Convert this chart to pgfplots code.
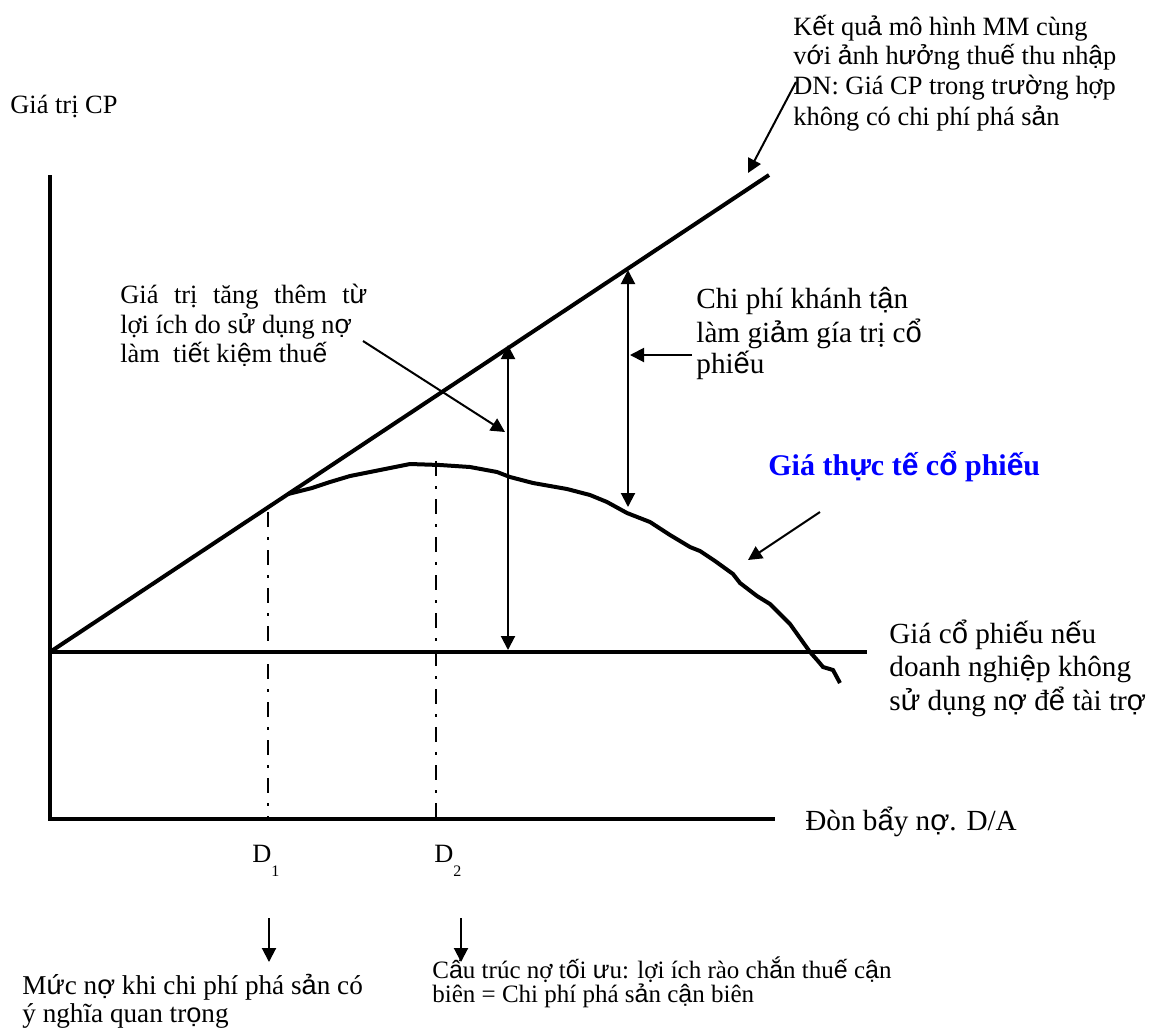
\documentclass[border=0pt]{standalone}
\usepackage{pgfplots}
\pgfplotsset{compat=1.18}
\usepackage{fontspec}
\setmainfont{Liberation Serif}
\newfontfamily\ssf{Liberation Sans}
\newcommand\V[1]{{\ssf #1}}
\usetikzlibrary{arrows.meta}
\definecolor{blu}{RGB}{0,0,255}
\begin{document}
\begin{tikzpicture}[
  txt/.style={anchor=base west, inner sep=0pt, font=\fontsize{13.2}{16}\selectfont},
  big/.style={txt, font=\fontsize{14.6}{17}\selectfont},
  hd/.style={-{Triangle[length=7pt,width=7pt]}},
  dhd/.style={{Triangle[length=7pt,width=7pt]}-{Triangle[length=7pt,width=7pt]}}]
\begin{axis}[scale only axis, width=576pt, height=515pt,
  xmin=0, xmax=1152, ymin=0, ymax=1030, y dir=reverse,
  hide axis, clip=false]
\path (axis cs:0,0) rectangle (axis cs:1152,1030);
% axes
\addplot[black, line width=2pt] coordinates {(50,175) (50,819) (775,819)};
% MM line
\addplot[black, line width=2pt] coordinates {(50,652) (769,175)};
% no-debt line
\addplot[black, line width=2pt] coordinates {(50,652) (867,652)};
% D1, D2 dash-dot
\addplot[black, line width=1pt, dash pattern=on 7.5pt off 5pt on 1.5pt off 5pt] coordinates {(268,512) (268,818)};
\addplot[black, line width=1pt, dash pattern=on 7.5pt off 5pt on 1.5pt off 5pt] coordinates {(436,461) (436,818)};
% actual price curve
\addplot[black, line width=2pt] coordinates {
(288,494) (300,491) (312,488) (330,482) (350,476) (380,470) (410,464) (440,465)
(470,467) (497,472) (510,477) (533,483) (550,486) (567,489) (590,495) (607,502)
(627,513) (650,522) (670,535) (690,547) (700,551) (715,561) (733,574) (740,583)
(757,596) (770,604) (790,624) (810,652) (818,661) (823,667) (833,670) (840,683)};
% arrows
\addplot[black, line width=1pt, dhd] coordinates {(508,345) (508,650)};
\addplot[black, line width=1pt, dhd] coordinates {(628,270) (628,507)};
\addplot[black, line width=1pt, hd] coordinates {(692,355) (630,355)};
\addplot[black, line width=1pt, hd] coordinates {(363,341) (505,432)};
\addplot[black, line width=1pt, hd] coordinates {(796,82) (748,173)};
\addplot[black, line width=1pt, hd] coordinates {(820,512) (748,560)};
\addplot[black, line width=1pt, hd] coordinates {(269,918) (269,962)};
\addplot[black, line width=1pt, hd] coordinates {(461,918) (461,962)};
% texts
\node[txt] at (axis cs:10,113) {Giá trị CP};
\node[txt] at (axis cs:793,35) {K\V{ế}t qu\V{ả} mô hình MM cùng};
\node[txt] at (axis cs:793,64) {v\V{ớ}i \V{ả}nh h\V{ưở}ng thu\V{ế} thu nh\V{ậ}p};
\node[txt] at (axis cs:793,94) {DN: Giá CP trong tr\V{ườ}ng hợp};
\node[txt] at (axis cs:793,125) {không có chi phí phá s\V{ả}n};
\node[txt] at (axis cs:120,303) {\makebox[123.5pt][s]{Giá trị tăng thêm t\V{ừ}}};
\node[txt] at (axis cs:120,333) {lợi ích do s\V{ử} dụng n\V{ợ}};
\node[txt] at (axis cs:120,362) {làm\ \ ti\V{ế}t ki\V{ệ}m thu\V{ế}};
\node[big] at (axis cs:696,308) {Chi phí khánh t\V{ậ}n};
\node[big] at (axis cs:696,342) {làm gi\V{ả}m gía trị c\V{ổ}};
\node[big] at (axis cs:696,373) {phi\V{ế}u};
\node[txt, font=\fontsize{15}{17}\selectfont\bfseries, text=blu] at (axis cs:768,475) {Giá th\V{ự}c t\V{ế} c\V{ổ} phi\V{ế}u};
\node[big] at (axis cs:889,643) {Giá c\V{ổ} phi\V{ế}u n\V{ế}u};
\node[big] at (axis cs:889,676) {doanh nghi\V{ệ}p không};
\node[big] at (axis cs:889,710) {s\V{ử} dụng n\V{ợ} đ\V{ể} tài tr\V{ợ}};
\node[big] at (axis cs:805,830) {Đòn b\V{ẩ}y n\V{ợ}. D/A};
\node[txt] at (axis cs:252,862) {D\raisebox{-1.2ex}{\fontsize{8}{8}\selectfont 1}};
\node[txt] at (axis cs:434,862) {D\raisebox{-1.2ex}{\fontsize{8}{8}\selectfont 2}};
\node[txt, font=\fontsize{13.6}{16}\selectfont] at (axis cs:22,994) {M\V{ứ}c n\V{ợ} khi chi phí phá s\V{ả}n có};
\node[txt, font=\fontsize{13.6}{16}\selectfont] at (axis cs:22,1022) {ý nghĩa quan tr\V{ọ}ng};
\node[txt, font=\fontsize{12.5}{14}\selectfont] at (axis cs:432,978) {C\V{ấ}u trúc nợ t\V{ố}i \V{ư}u: lợi ích rào ch\V{ắ}n thu\V{ế} c\V{ậ}n};
\node[txt, font=\fontsize{12.5}{14}\selectfont] at (axis cs:432,1002) {biên = Chi phí phá s\V{ả}n c\V{ậ}n biên};
\end{axis}
\end{tikzpicture}
\end{document}
